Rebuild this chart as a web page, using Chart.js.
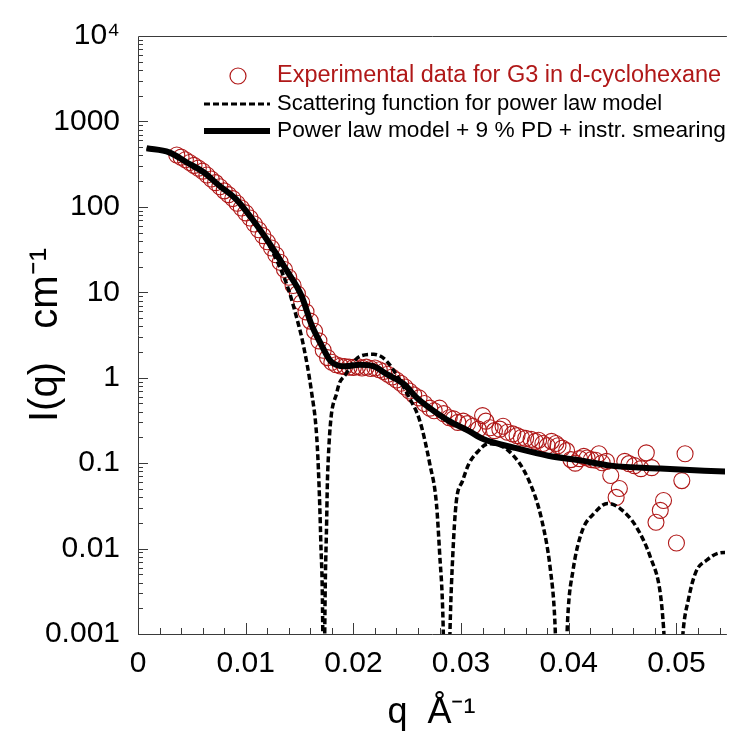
<!DOCTYPE html>
<html>
<head>
<meta charset="utf-8">
<script src="https://cdn.jsdelivr.net/npm/chart.js@4.4.1/dist/chart.umd.min.js"></script>
<style>
  body { margin: 0; background: #fff; }
</style>
</head>
<body>
<canvas id="chart" width="734" height="737"></canvas>
<script>
// experimental SANS points (red circles)
var qExp = [0.0036, 0.0040, 0.0044, 0.0048, 0.0052, 0.0056, 0.0060, 0.0064, 0.0068, 0.0072,
  0.0076, 0.0080, 0.0084, 0.0088, 0.0092, 0.0096, 0.0100, 0.0104, 0.0108, 0.0112,
  0.0116, 0.0120, 0.0124, 0.0128, 0.0132, 0.0136, 0.0140, 0.0144, 0.0148, 0.0152,
  0.0156, 0.0160, 0.0164, 0.0168, 0.0172, 0.0176, 0.0180, 0.0184, 0.0188, 0.0192,
  0.0196, 0.0200, 0.0204, 0.0208, 0.0212, 0.0216, 0.0220, 0.0224, 0.0228, 0.0232,
  0.0236, 0.0240, 0.0244, 0.0248, 0.0252, 0.0256, 0.0261, 0.0266, 0.0271, 0.0275,
  0.0280, 0.0284, 0.0289, 0.0293, 0.0297, 0.0302, 0.0306, 0.0311, 0.0316, 0.0320,
  0.0323, 0.0327, 0.0331, 0.0336, 0.0339, 0.0343, 0.0348, 0.0352, 0.0356, 0.0360,
  0.0365, 0.0369, 0.0372, 0.0376, 0.0380, 0.0384, 0.0388, 0.0390, 0.0394, 0.0398,
  0.0402, 0.0406, 0.0410, 0.0414, 0.0417, 0.0421, 0.0425, 0.0428, 0.0431, 0.0435,
  0.0439, 0.0444, 0.0447, 0.0452, 0.0456, 0.0461, 0.0467, 0.0472, 0.0477, 0.0481,
  0.0485, 0.0488, 0.0500, 0.0505, 0.0508];
var iExp = [405, 382, 356, 330, 306, 284, 262, 236, 212, 192,
  172, 154, 139, 125, 110, 97, 85, 74, 63, 54,
  46, 39, 33, 27.5, 22.5, 18.5, 15, 12, 9.6, 7.6,
  5.9, 4.6, 3.5, 2.7, 2.1, 1.72, 1.52, 1.42, 1.37, 1.35,
  1.33, 1.32, 1.35, 1.30, 1.33, 1.28, 1.30, 1.24, 1.18, 1.10,
  1.02, 0.94, 0.86, 0.78, 0.70, 0.63, 0.58, 0.50, 0.44, 0.41,
  0.44, 0.38, 0.34, 0.33, 0.30, 0.31, 0.29, 0.27, 0.25, 0.36,
  0.31, 0.26, 0.24, 0.25, 0.27, 0.23, 0.22, 0.21, 0.20, 0.195,
  0.19, 0.18, 0.185, 0.17, 0.16, 0.18, 0.17, 0.16, 0.15, 0.14,
  0.11, 0.10, 0.113, 0.12, 0.115, 0.11, 0.108, 0.129, 0.101, 0.105,
  0.0716, 0.0397, 0.0505, 0.105, 0.0986, 0.0935, 0.0863, 0.132, 0.0886, 0.0203,
  0.028, 0.0366, 0.0116, 0.0625, 0.129];

// scattering function, power law model (dashed)
var qModel = [0.0008, 0.0029, 0.0045, 0.0061, 0.0075, 0.0091, 0.0106, 0.0121, 0.0130, 0.0139,
  0.0149, 0.0153, 0.0161, 0.0166, 0.0168, 0.01697, 0.01716, 0.01725, 0.01734, 0.01752,
  0.01761, 0.0185, 0.0193, 0.0206, 0.0219, 0.0231, 0.0252, 0.02618, 0.02709, 0.02771,
  0.02801, 0.02832, 0.02865, 0.02898, 0.02924, 0.02954, 0.03015, 0.03073, 0.03138, 0.03257,
  0.0344, 0.0363, 0.0375, 0.0383, 0.0387, 0.0393, 0.0399, 0.0404, 0.0412, 0.0424,
  0.0436, 0.0448, 0.0463, 0.0476, 0.0485, 0.0488, 0.0497, 0.0506, 0.0511, 0.0518,
  0.0528, 0.0540, 0.0546];
var iModel = [485, 434, 333, 254, 179, 123, 71, 37, 22, 11.5,
  4.2, 2.6, 0.70, 0.2, 0.06, 0.0126, 0.001, 0.00001, 0.001, 0.0214,
  0.075, 0.70, 1.10, 1.78, 1.88, 1.56, 0.58, 0.31, 0.0986, 0.0338,
  0.0088, 0.0015, 0.00001, 0.0012, 0.0088, 0.0338, 0.0625, 0.0986, 0.129, 0.169,
  0.140, 0.0625, 0.0214, 0.0056, 0.0015, 0.00001, 0.0015, 0.0056, 0.0155, 0.0262,
  0.0338, 0.0292, 0.0177, 0.0078, 0.0030, 0.0012, 0.00001, 0.001, 0.0025, 0.0053,
  0.0073, 0.0089, 0.0090];

// power law model + 9 % PD + smearing (thick solid)
var qSmear = [0.0008, 0.0029, 0.0045, 0.0061, 0.0075, 0.0091, 0.0106, 0.0121, 0.0137, 0.0152,
  0.0161, 0.0170, 0.0179, 0.0192, 0.0206, 0.0219, 0.0231, 0.0247, 0.0259, 0.0271,
  0.0289, 0.0307, 0.0320, 0.0350, 0.0381, 0.0412, 0.0439, 0.0485, 0.0546];
var iSmear = [485, 434, 333, 254, 179, 123, 72, 39, 18.9, 9.0,
  4.2, 2.46, 1.56, 1.36, 1.42, 1.36, 1.10, 0.84, 0.58, 0.44,
  0.31, 0.239, 0.193, 0.151, 0.122, 0.107, 0.0935, 0.0863, 0.0796];

var xTicks = [0, 0.01, 0.02, 0.03, 0.04, 0.05];
var yTicks = [0.001, 0.01, 0.1, 1, 10, 100, 1000, 10000];
var yTickLabels = ['0.001', '0.01', '0.1', '1', '10', '100', '1000', '10\u2074'];

function pts(xs, ys) {
  return xs.map(function (q, i) { return { x: q, y: ys[i] }; });
}

var FONT = "'Liberation Sans', Arial, sans-serif";
var RED = '#b01818';

// box + inward ticks
var frame = {
  id: 'frame',
  afterDatasetsDraw: function (chart) {
    var ctx = chart.ctx, a = chart.chartArea, x = chart.scales.x, y = chart.scales.y;
    ctx.save();
    ctx.strokeStyle = '#3a3a3a';
    ctx.lineWidth = 1;
    ctx.beginPath();
    ctx.moveTo(a.right + 2, a.top + 0.5);
    ctx.lineTo(a.left + 0.5, a.top + 0.5);
    ctx.lineTo(a.left + 0.5, a.bottom + 0.5);
    ctx.lineTo(a.right + 2, a.bottom + 0.5);
    for (var e = -3; e < 4; e++) {
      for (var m = 1; m < 10; m++) {
        var py = Math.round(y.getPixelForValue(m * Math.pow(10, e))) + 0.5;
        ctx.moveTo(a.left, py);
        ctx.lineTo(a.left + (m === 1 ? 10 : 5), py);
      }
    }
    for (var k = 0; k <= 27; k++) {
      var px = Math.round(x.getPixelForValue(k * 0.002)) + 0.5;
      if (px > a.right) break;
      ctx.moveTo(px, a.bottom);
      ctx.lineTo(px, a.bottom - (k % 5 === 0 ? 11 : 6));
    }
    ctx.stroke();
    ctx.restore();
  }
};

// legend inside the plot, top right
var insideLegend = {
  id: 'insideLegend',
  afterDraw: function (chart) {
    var ctx = chart.ctx, a = chart.chartArea, ds = chart.data.datasets;
    var x0 = a.left + 66, x1 = a.left + 132, tx = a.left + 139;
    var rows = [a.top + 40, a.top + 68, a.top + 95];
    ctx.save();
    ctx.textBaseline = 'middle';
    // circles
    ctx.strokeStyle = RED;
    ctx.lineWidth = 1.2;
    ctx.beginPath();
    ctx.arc(a.left + 100, rows[0], 8, 0, Math.PI * 2);
    ctx.stroke();
    ctx.fillStyle = RED;
    ctx.font = '23.5px ' + FONT;
    ctx.fillText(ds[2].label, tx, rows[0]);
    // dashed
    ctx.strokeStyle = '#000';
    ctx.lineWidth = 3;
    ctx.setLineDash([6, 3]);
    ctx.beginPath();
    ctx.moveTo(x0, rows[1]);
    ctx.lineTo(x1, rows[1]);
    ctx.stroke();
    ctx.setLineDash([]);
    ctx.fillStyle = '#000';
    ctx.font = '22px ' + FONT;
    ctx.fillText(ds[0].label, tx, rows[1]);
    // solid
    ctx.lineWidth = 6;
    ctx.beginPath();
    ctx.moveTo(x0, rows[2]);
    ctx.lineTo(x1, rows[2]);
    ctx.stroke();
    ctx.font = '22.7px ' + FONT;
    ctx.fillText(ds[1].label, tx, rows[2]);
    ctx.restore();
  }
};

new Chart(document.getElementById('chart'), {
  type: 'scatter',
  data: {
    datasets: [{
      label: 'Scattering function for power law model',
      data: pts(qModel, iModel),
      showLine: true,
      borderColor: '#000',
      borderWidth: 3.5,
      borderDash: [6, 3],
      pointRadius: 0,
      cubicInterpolationMode: 'monotone',
      clip: 0,
      order: 0
    }, {
      label: 'Power law model + 9 % PD + instr. smearing',
      data: pts(qSmear, iSmear),
      showLine: true,
      borderColor: '#000',
      borderWidth: 6,
      pointRadius: 0,
      cubicInterpolationMode: 'monotone',
      clip: 0,
      order: 1
    }, {
      label: 'Experimental data for G3 in d-cyclohexane',
      data: pts(qExp, iExp),
      showLine: false,
      pointStyle: 'circle',
      pointRadius: 8,
      borderWidth: 1.1,
      borderColor: RED,
      backgroundColor: 'rgba(0,0,0,0)',
      clip: 0,
      order: 2
    }]
  },
  options: {
    responsive: false,
    animation: false,
    events: [],
    layout: { padding: { top: 33, right: 0, left: 0, bottom: 0 } },
    plugins: {
      legend: { display: false },
      tooltip: { enabled: false }
    },
    scales: {
      x: {
        type: 'linear',
        min: 0,
        max: 0.0545,
        grid: { display: false, drawTicks: false },
        border: { display: false },
        afterBuildTicks: function (s) {
          s.ticks = xTicks.map(function (v) { return { value: v }; });
        },
        afterFit: function (s) { s.height = 103; },
        ticks: {
          padding: 12,
          color: '#000',
          font: { size: 30, family: FONT },
          maxRotation: 0,
          callback: function (v) { return String(Math.round(v * 100) / 100); }
        },
        title: {
          display: true,
          text: 'q  \u00c5\u207b\u00b9',
          color: '#000',
          font: { size: 36, family: FONT },
          padding: { top: 0, bottom: 2 }
        }
      },
      y: {
        type: 'logarithmic',
        min: 0.001,
        max: 10000,
        grid: { display: false, drawTicks: false },
        border: { display: false },
        afterBuildTicks: function (s) {
          s.ticks = yTicks.map(function (v) { return { value: v }; });
        },
        afterFit: function (s) { s.width = 138; },
        ticks: {
          padding: 18,
          color: '#000',
          font: { size: 30, family: FONT },
          callback: function (v) { return yTickLabels[yTicks.indexOf(v)]; }
        },
        title: {
          display: true,
          text: 'I(q)   cm\u207b\u00b9',
          color: '#000',
          font: { size: 40, family: FONT },
          padding: { top: 22, bottom: 0 }
        }
      }
    }
  },
  plugins: [frame, insideLegend]
});
</script>
</body>
</html>
